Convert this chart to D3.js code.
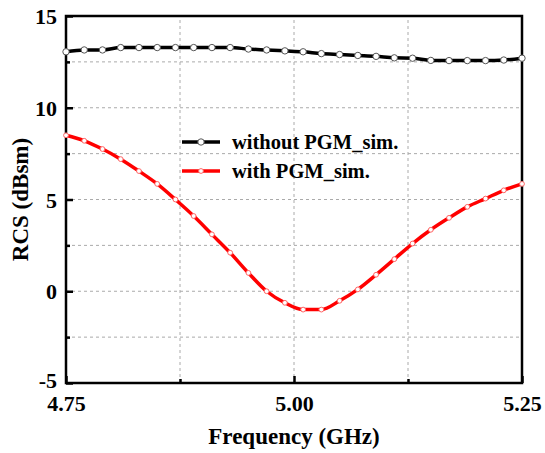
<!DOCTYPE html>
<html>
<head>
<meta charset="utf-8">
<script src="https://cdn.jsdelivr.net/npm/d3@7"></script>
<style>
body { margin: 0; background: #fff; }
text { font-family: "Liberation Serif", "Times New Roman", serif; font-weight: bold; }
</style>
</head>
<body>
<script>
// frequency points (GHz), one marker every 0.02
var freq = [4.75, 4.77, 4.79, 4.81, 4.83, 4.85, 4.87, 4.89, 4.91, 4.93, 4.95, 4.97, 4.99,
            5.01, 5.03, 5.05, 5.07, 5.09, 5.11, 5.13, 5.15, 5.17, 5.19, 5.21, 5.23, 5.25];
var withoutPGM = [13.05, 13.15, 13.15, 13.28, 13.28, 13.28, 13.28, 13.28, 13.28, 13.28, 13.2, 13.15, 13.1,
                  13.05, 12.95, 12.9, 12.85, 12.8, 12.72, 12.7, 12.58, 12.57, 12.57, 12.57, 12.6, 12.7];
var withPGM = [8.5, 8.2, 7.75, 7.2, 6.55, 5.85, 5.0, 4.1, 3.1, 2.1, 1.0, 0.0, -0.63,
               -1.0, -1.0, -0.52, 0.1, 0.9, 1.75, 2.6, 3.35, 4.0, 4.6, 5.05, 5.5, 5.85];
var xTicks = [4.75, 5.00, 5.25];
var xMinor = [4.875, 5.125];
var yTicks = [-5, 0, 5, 10, 15];
var yMinor = [-2.5, 2.5, 7.5, 12.5];
var seriesNames = ["without PGM_sim.", "with PGM_sim."];
var seriesColors = ["#000000", "#ff0000"];

const width = 545, height = 453;
const margin = {left: 66, right: 23, top: 16, bottom: 70};

var svg = d3.select("body").append("svg")
    .attr("width", width)
    .attr("height", height);

var x = d3.scaleLinear().domain([4.75, 5.25]).range([margin.left, width - margin.right]);
var y = d3.scaleLinear().domain([-5, 15]).range([height - margin.bottom, margin.top]);

// dashed grid
var grid = svg.append("g");
grid.selectAll("line.gx").data(xMinor.concat([5.0])).enter().append("line")
    .attr("x1", d => x(d)).attr("x2", d => x(d))
    .attr("y1", y(-5)).attr("y2", y(15))
    .attr("stroke", "#aaa").attr("stroke-width", 1).attr("stroke-dasharray", "3,3");
grid.selectAll("line.gy").data(yMinor.concat([0, 5, 10])).enter().append("line")
    .attr("x1", x(4.75)).attr("x2", x(5.25))
    .attr("y1", d => y(d)).attr("y2", d => y(d))
    .attr("stroke", "#aaa").attr("stroke-width", 1).attr("stroke-dasharray", "3,3");

// axes with inward ticks
var xAxis = svg.append("g").attr("transform", "translate(0," + y(-5) + ")")
    .call(d3.axisBottom(x).tickValues(xTicks).tickSize(-7).tickPadding(12).tickFormat(d3.format(".2f")));
var xAxisMinor = svg.append("g").attr("transform", "translate(0," + y(-5) + ")")
    .call(d3.axisBottom(x).tickValues(xMinor).tickSize(-4).tickFormat(""));
var yAxis = svg.append("g").attr("transform", "translate(" + x(4.75) + ",0)")
    .call(d3.axisLeft(y).tickValues(yTicks).tickSize(-7).tickPadding(9).tickFormat(d => String(d)));
var yAxisMinor = svg.append("g").attr("transform", "translate(" + x(4.75) + ",0)")
    .call(d3.axisLeft(y).tickValues(yMinor).tickSize(-4).tickFormat(""));

[xAxis, xAxisMinor, yAxis, yAxisMinor].forEach(function(g) {
    g.select(".domain").remove();
    g.selectAll(".tick line").attr("stroke", "#000").attr("stroke-width", 2.5);
    g.selectAll("text").attr("font-size", 22).attr("fill", "#000")
        .style("font-family", "'Liberation Serif', serif").style("font-weight", "bold");
});
yAxis.selectAll("text").attr("dy", d => d == -5 ? "0.2em" : "0.35em");

// frame
svg.append("rect")
    .attr("x", x(4.75)).attr("y", y(15))
    .attr("width", x(5.25) - x(4.75)).attr("height", y(-5) - y(15))
    .attr("fill", "none").attr("stroke", "#000").attr("stroke-width", 2.5);

// series
var series = [withoutPGM, withPGM];
var line = d3.line().x(d => x(d[0])).y(d => y(d[1])).curve(d3.curveMonotoneX);

series.forEach(function(vals, i) {
    var pts = freq.map((f, j) => [f, vals[j]]);
    svg.append("path").datum(pts)
        .attr("d", line)
        .attr("fill", "none")
        .attr("stroke", seriesColors[i])
        .attr("stroke-width", 3.5);
    svg.selectAll("circle.s" + i).data(pts).enter().append("circle")
        .attr("class", "s" + i)
        .attr("cx", d => x(d[0])).attr("cy", d => y(d[1]))
        .attr("r", i == 0 ? 3.2 : 2.4)
        .attr("fill", "#fff")
        .attr("stroke", i == 0 ? "#555" : "#ff6666")
        .attr("stroke-width", 1);
});

// legend
var legend = svg.append("g");
seriesNames.forEach(function(name, i) {
    var ly = 142 + i * 29;
    legend.append("line")
        .attr("x1", 182).attr("x2", 220).attr("y1", ly).attr("y2", ly)
        .attr("stroke", seriesColors[i]).attr("stroke-width", 3.5);
    legend.append("circle")
        .attr("cx", 201).attr("cy", ly)
        .attr("r", i == 0 ? 3.2 : 2.4)
        .attr("fill", "#fff").attr("stroke", i == 0 ? "#555" : "#ff6666").attr("stroke-width", 1);
    legend.append("text")
        .attr("x", 232).attr("y", ly + 7)
        .attr("font-size", 20.5)
        .text(name);
});

// axis titles
svg.append("text")
    .attr("x", (x(4.75) + x(5.25)) / 2).attr("y", 444)
    .attr("text-anchor", "middle").attr("font-size", 23)
    .text("Frequency (GHz)");
svg.append("text")
    .attr("transform", "translate(28," + ((y(-5) + y(15)) / 2) + ") rotate(-90)")
    .attr("text-anchor", "middle").attr("font-size", 23)
    .text("RCS (dBsm)");
</script>
</body>
</html>
